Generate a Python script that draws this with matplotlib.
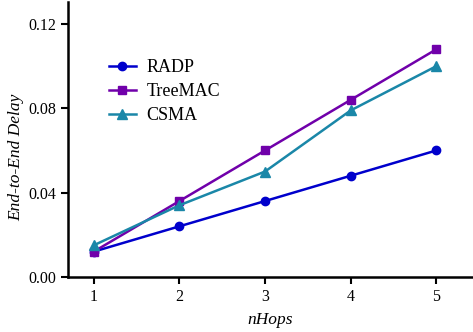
import matplotlib
matplotlib.use("Agg")
import matplotlib.pyplot as plt

hops = [1, 2, 3, 4, 5]
radp = [0.012, 0.024, 0.036, 0.048, 0.060]
treemac = [0.012, 0.036, 0.060, 0.084, 0.108]
csma = [0.015, 0.034, 0.050, 0.079, 0.100]

plt.rcParams["font.family"] = ["Liberation Serif", "DejaVu Serif"]

fig = plt.figure(figsize=(4.73, 3.32), dpi=100)
ax = fig.add_axes([0.144, 0.166, 0.856, 0.828])

ax.plot(hops, radp, color="#0000cc", marker="o", ms=6, lw=1.8, label="RADP")
ax.plot(hops, treemac, color="#7000aa", marker="s", ms=6, lw=1.8, label="TreeMAC")
ax.plot(hops, csma, color="#1a87a8", marker="^", ms=6.5, lw=1.8, label="CSMA")

ax.set_xlim(0.7, 5.43)
ax.set_ylim(0, 0.1305)
ax.set_xticks(hops)
ax.set_yticks([0.0, 0.04, 0.08, 0.12])
ax.set_yticklabels(["0.00", "0.04", "0.08", "0.12"])
ax.tick_params(direction="out", length=5, width=1.5, labelsize=11.5)
for s in ["top", "right"]:
    ax.spines[s].set_visible(False)
for s in ["left", "bottom"]:
    ax.spines[s].set_linewidth(1.8)

ax.set_xlabel("nHops", fontsize=12.5, style="italic", labelpad=5)
ax.set_ylabel("End-to-End Delay", fontsize=12.5, style="italic")
ax.yaxis.set_label_coords(-0.108, 0.436)

ax.legend(loc="upper left", bbox_to_anchor=(0.06, 0.85), frameon=False,
          fontsize=13, handlelength=1.5, handletextpad=0.6, labelspacing=0.38)

fig.savefig("out.png", dpi=100)
